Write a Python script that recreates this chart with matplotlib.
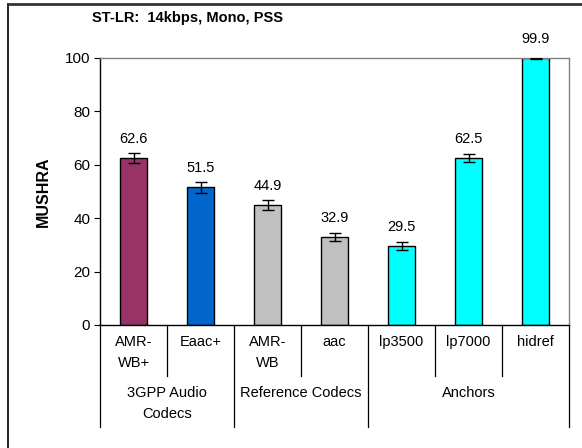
import matplotlib
matplotlib.use("Agg")
import matplotlib.pyplot as plt
from matplotlib.transforms import blended_transform_factory
from matplotlib.lines import Line2D

plt.rcParams["font.family"] = ["Liberation Sans", "DejaVu Sans"]

codecs = ["AMR-\nWB+", "Eaac+", "AMR-\nWB", "aac", "lp3500", "lp7000", "hidref"]
scores = [62.6, 51.5, 44.9, 32.9, 29.5, 62.5, 99.9]
errors = [1.9, 1.9, 2.0, 1.6, 1.4, 1.6, 0.2]
colors = ["#993366", "#0066CC", "#C0C0C0", "#C0C0C0", "#00FFFF", "#00FFFF", "#00FFFF"]
groups = ["3GPP Audio\nCodecs", "Reference Codecs", "Anchors"]
group_sizes = [2, 2, 3]

W, H = 582, 448
fig = plt.figure(figsize=(W / 100, H / 100), dpi=100)
ax = fig.add_axes([100 / W, (H - 325) / H, 469 / W, 267 / H])

x = list(range(len(codecs)))
ax.bar(x, scores, width=0.4, color=colors, edgecolor="black", linewidth=1.0, zorder=2)
ax.errorbar(x, scores, yerr=errors, fmt="none", ecolor="black", elinewidth=1.0,
            capsize=4, capthick=1.0, zorder=3)
for xi, s in zip(x, scores):
    ax.text(xi, s + 4.5, f"{s:.1f}", ha="center", va="bottom", fontsize=10.5)

ax.set_xlim(-0.5, len(codecs) - 0.5)
ax.set_ylim(0, 100)
ax.set_yticks(range(0, 101, 20))
ax.tick_params(axis="y", labelsize=11, length=4, width=0.8, pad=3)
ax.set_xticks([])
for side in ["top", "right"]:
    ax.spines[side].set_color("#808080")
    ax.spines[side].set_linewidth(1.0)
ax.spines["left"].set_linewidth(1.0)
ax.spines["bottom"].set_linewidth(1.0)
ax.set_ylabel("MUSHRA", fontsize=11.5, fontweight="bold", labelpad=10)

# category axis below the plot
tr = blended_transform_factory(ax.transData, fig.transFigure)
y0 = (H - 325) / H
y_inner = (H - 376) / H
y_outer = (H - 427) / H
bounds = [-0.5]
for g in group_sizes:
    bounds.append(bounds[-1] + g)
for b in range(len(codecs) + 1):
    xb = b - 0.5
    low = y_outer if xb in bounds else y_inner
    ax.add_line(Line2D([xb, xb], [y0, low], transform=tr, color="black",
                       linewidth=0.9, clip_on=False))
for xi, name in zip(x, codecs):
    ax.text(xi, (H - 335) / H, name, transform=tr, ha="center", va="top",
            fontsize=10.5, linespacing=1.65)
for gi, g in enumerate(groups):
    mid = (bounds[gi] + bounds[gi + 1]) / 2
    ax.text(mid, (H - 386) / H, g, transform=tr, ha="center", va="top",
            fontsize=10.5, linespacing=1.65)

fig.text(92 / W, (H - 18) / H, "ST-LR:  14kbps, Mono, PSS", fontsize=10.5,
         fontweight="bold", ha="left", va="center")

# figure frame (left and top edges visible)
fig.add_artist(Line2D([7.5 / W, 7.5 / W], [0, (H - 4) / H], transform=fig.transFigure,
                      color="black", linewidth=1.2))
fig.add_artist(Line2D([7.5 / W, 1], [(H - 4) / H, (H - 4) / H], transform=fig.transFigure,
                      color="#333333", linewidth=2))

fig.savefig("out.png", dpi=100)
